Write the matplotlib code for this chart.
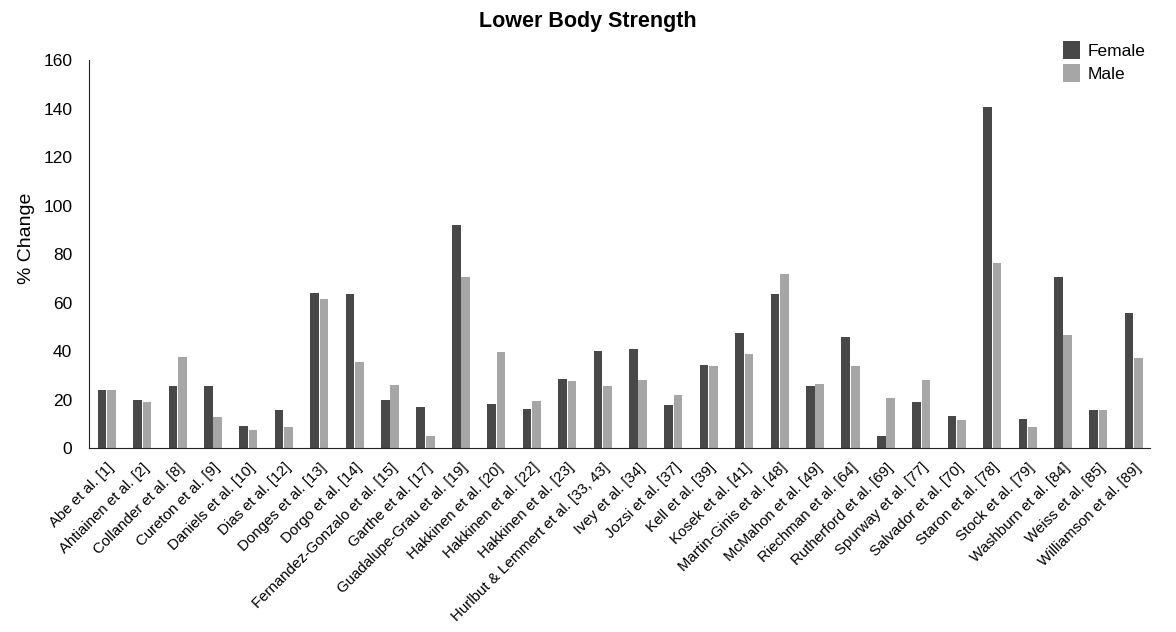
import matplotlib.pyplot as plt
import numpy as np

plt.rcParams['font.family'] = ['Liberation Sans', 'DejaVu Sans']

studies = ["Abe et al. [1]", "Ahtiainen et al. [2]", "Collander et al. [8]", "Cureton et al. [9]",
           "Daniels et al. [10]", "Dias et al. [12]", "Donges et al. [13]", "Dorgo et al. [14]",
           "Fernandez-Gonzalo et al. [15]", "Garthe et al. [17]", "Guadalupe-Grau et al. [19]",
           "Hakkinen et al. [20]", "Hakkinen et al. [22]", "Hakkinen et al. [23]",
           "Hurlbut & Lemmert et al. [33, 43]", "Ivey et al. [34]", "Jozsi et al. [37]",
           "Kell et al. [39]", "Kosek et al. [41]", "Martin-Ginis et al. [48]",
           "McMahon et al. [49]", "Riechman et al. [64]", "Rutherford et al. [69]",
           "Spurway et al. [77]", "Salvador et al. [70]", "Staron et al. [78]",
           "Stock et al. [79]", "Washburn et al. [84]", "Weiss et al. [85]",
           "Williamson et al. [89]"]

female = [24, 20, 25.5, 25.5, 9, 15.5, 64, 63.5, 20, 17, 92, 18, 16, 28.5, 40, 41, 17.7, 34.3,
          47.3, 63.6, 25.6, 45.6, 5, 18.8, 13.3, 140.5, 12, 70.4, 15.8, 55.6]
male = [24, 19, 37.5, 13, 7.5, 8.5, 61.5, 35.5, 26, 5, 70.5, 39.5, 19.5, 27.5, 25.6, 28, 22,
        33.8, 38.7, 71.8, 26.5, 33.8, 20.6, 28, 11.4, 76.2, 8.5, 46.6, 15.8, 37.2]

fig = plt.figure(figsize=(11.76, 6.32), dpi=100)
ax = fig.add_axes([0.0757, 0.291, 0.902, 0.614])

x = np.arange(len(studies))
w = 0.245
ax.bar(x - w / 2 - 0.01, female, w, color='#484848', label='Female')
ax.bar(x + w / 2 + 0.01, male, w, color='#a6a6a6', label='Male')

ax.set_xlim(-0.5, 29.45)
ax.set_ylim(0, 160)
ax.set_yticks(range(0, 161, 20))
ax.tick_params(axis='y', length=0, labelsize=12.5, pad=12)
ax.tick_params(axis='x', length=0, pad=9)
ax.set_xticks(x)
ax.set_xticklabels(studies, rotation=45, ha='right', rotation_mode='anchor', fontsize=10.8)

for s in ['top', 'right']:
    ax.spines[s].set_visible(False)
ax.spines['left'].set_color('#222222')
ax.spines['bottom'].set_color('#222222')

ax.set_ylabel('% Change', fontsize=14)
ax.yaxis.set_label_coords(-0.051, 0.54)
fig.suptitle('Lower Body Strength', fontsize=15.5, fontweight='bold', y=0.982)

fig.legend(loc='upper right', bbox_to_anchor=(0.987, 0.96), frameon=False, fontsize=12.5,
           handlelength=1.0, handleheight=1.2, handletextpad=0.4, labelspacing=0.3)

fig.savefig('out.png', dpi=100)
